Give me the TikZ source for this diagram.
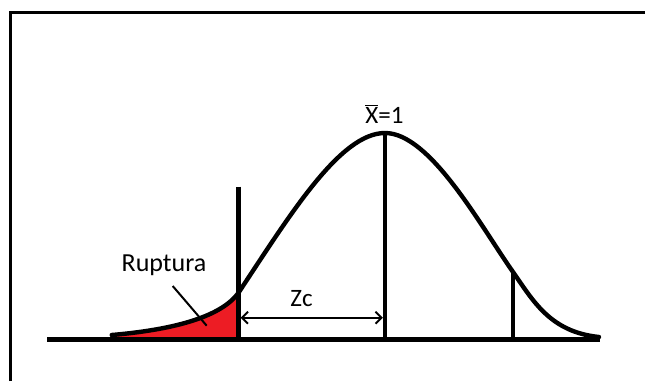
\documentclass[tikz,border=0pt]{standalone}
\usepackage{fontspec}
\setmainfont{Carlito}
\usetikzlibrary{arrows.meta}
\definecolor{paintred}{RGB}{237,28,36}
\tikzset{
  thick line/.style={line width=4.4pt, line cap=butt},
  thin line/.style={line width=2pt},
  label text/.style={anchor=base, inner sep=0pt},
}
\begin{document}
\begin{tikzpicture}[x=1pt,y=-1pt]
\useasboundingbox (0,0) rectangle (645,381);
\fill[white] (0,0) rectangle (645,381);
% frame
\draw[line width=3pt] (10.5,381) -- (10.5,12.5) -- (645,12.5);
% coordinates
\coordinate (axL) at (47,339.5);
\coordinate (axR) at (600,339.5);
\coordinate (zcTop) at (238.5,186.7);
\coordinate (zcBot) at (238.5,339.5);
\coordinate (meanTop) at (385,133);
\coordinate (meanBot) at (385,339.5);
\coordinate (rTop) at (513,272);
\coordinate (rBot) at (513,339.5);
\coordinate (tail) at (111.7,335);
\coordinate (knee) at (238.3,293);
\coordinate (peak) at (385,133);
\coordinate (rknee) at (513,272);
\coordinate (rend) at (599,337);
% red area
\fill[paintred] (tail) .. controls (170,330) and (220,318) .. (knee) -- (238.5,339.5) -- (111.7,339.5) -- cycle;
% axis
\draw[line width=4.5pt] (axL) -- (axR);
% curve
\draw[thick line, line join=round, line cap=round]
  (tail) .. controls (170,330) and (220,318) .. (knee)
  .. controls (290,215) and (340,133) .. (peak)
  .. controls (430,133) and (480,225) .. (rknee)
  .. controls (533,300.5) and (550,332) .. (rend);
% vertical lines
\draw[thick line] (zcTop) -- (zcBot);
\draw[thick line] (meanTop) -- (meanBot);
\draw[thick line] (rTop) -- (rBot);
% Zc arrow
\coordinate (arL) at (240.6,317.7);
\coordinate (arR) at (382.9,317.7);
\draw[thin line, {Straight Barb[length=6pt,width=12pt]}-{Straight Barb[length=6pt,width=12pt]}] (arL) -- (arR);
% labels
\node[label text, font=\fontsize{26}{30}\selectfont] (rup) at (164,271.7) {Ruptura};
\node[label text, font=\fontsize{25}{29}\selectfont] (zc) at (301.5,306) {Zc};
\node[label text, font=\fontsize{25}{29}\selectfont] (mean) at (384.5,123) {$\overline{\hbox{X}}$=1};
% pointer
\coordinate (ptA) at (172.7,286);
\coordinate (ptB) at (206.7,325.7);
\draw[thin line] (ptA) -- (ptB);
\end{tikzpicture}
\end{document}
